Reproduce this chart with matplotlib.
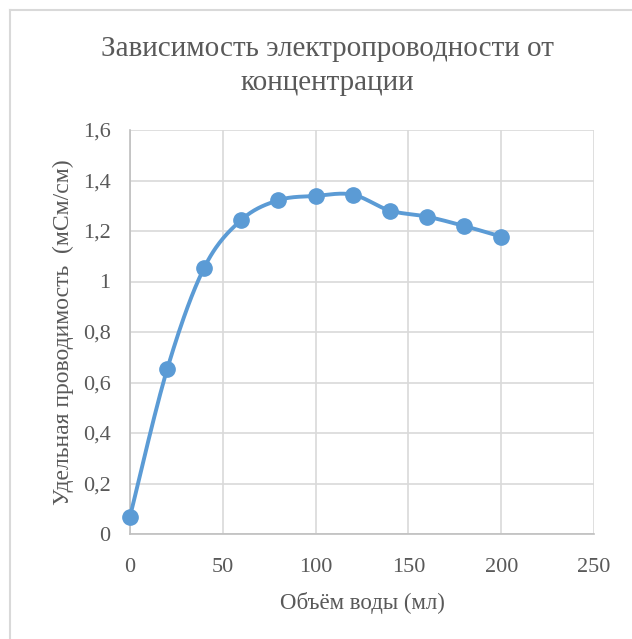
import numpy as np
import matplotlib
matplotlib.use("Agg")
import matplotlib.pyplot as plt
from matplotlib.lines import Line2D
from matplotlib.ticker import FuncFormatter

# Data
volume_ml = [0, 20, 40, 60, 80, 100, 120, 140, 160, 180, 200]
conductivity = [0.069, 0.652, 1.055, 1.244, 1.322, 1.339, 1.344, 1.281, 1.257, 1.220, 1.178]
x_ticks = [0, 50, 100, 150, 200, 250]
y_ticks = [0, 0.2, 0.4, 0.6, 0.8, 1.0, 1.2, 1.4, 1.6]

title = "Зависимость электропроводности от\nконцентрации"
xlabel = "Объём воды (мл)"
ylabel = "Удельная проводимость  (мСм/см)"

plt.rcParams['font.family'] = ['Liberation Serif', 'DejaVu Serif']
txt = '#595959'
grid_c = '#d9d9d9'
blue = '#5b9bd5'


def smooth(xs, ys, n=30):
    xs = np.asarray(xs, float)
    ys = np.asarray(ys, float)
    P = np.column_stack([xs, ys])
    out = []
    for i in range(len(P) - 1):
        p0 = P[i - 1] if i > 0 else P[i]
        p1 = P[i]
        p2 = P[i + 1]
        p3 = P[i + 2] if i + 2 < len(P) else P[i + 1]
        c1 = p1 + (p2 - p0) / 6.0
        c2 = p2 - (p3 - p1) / 6.0
        t = np.linspace(0, 1, n)[:, None]
        seg = ((1 - t) ** 3) * p1 + 3 * ((1 - t) ** 2) * t * c1 + 3 * (1 - t) * t ** 2 * c2 + t ** 3 * p2
        out.append(seg if i == 0 else seg[1:])
    out = np.vstack(out)
    return out[:, 0], out[:, 1]


fig = plt.figure(figsize=(6.32, 6.39), dpi=100)
W, H = 632, 639
ax = fig.add_axes([130 / W, 1 - 534 / H, (594 - 130) / W, (534 - 130) / H])

sx, sy = smooth(volume_ml, conductivity)
ax.plot(sx, sy, color=blue, lw=2.8, solid_capstyle='round', zorder=3, clip_on=False)
ax.plot(volume_ml, conductivity, 'o', color=blue, ms=11, zorder=4, clip_on=False)

ax.set_xlim(0, 250)
ax.set_ylim(0, 1.6)
ax.set_xticks(x_ticks)
ax.set_yticks(y_ticks)
ax.yaxis.set_major_formatter(FuncFormatter(lambda v, p: ('%g' % round(v, 1)).replace('.', ',')))
ax.grid(True, color=grid_c, lw=1.2, zorder=0)
ax.set_axisbelow(True)
for s in ['top', 'right']:
    ax.spines[s].set_visible(False)
for s in ['left', 'bottom']:
    ax.spines[s].set_color('#bfbfbf')
    ax.spines[s].set_linewidth(1.2)
ax.tick_params(length=0, labelsize=16, colors=txt)
ax.tick_params(axis='y', pad=14)
ax.tick_params(axis='x', pad=17)

ax.set_xlabel(xlabel, fontsize=16.5, color=txt, labelpad=11)
ax.set_ylabel(ylabel, fontsize=17, color=txt, labelpad=6)

fig.text(327 / W, 1 - 66 / H, title, ha='center', va='center', fontsize=21,
         color=txt, linespacing=1.38)

# chart border (left and top visible)
fig.add_artist(Line2D([10 / W, 10 / W], [0, 1 - 10 / H], transform=fig.transFigure, color='#d9d9d9', lw=1.5))
fig.add_artist(Line2D([10 / W, 1], [1 - 10 / H, 1 - 10 / H], transform=fig.transFigure, color='#d9d9d9', lw=1.5))

fig.savefig('out.png', dpi=100, facecolor='white')
